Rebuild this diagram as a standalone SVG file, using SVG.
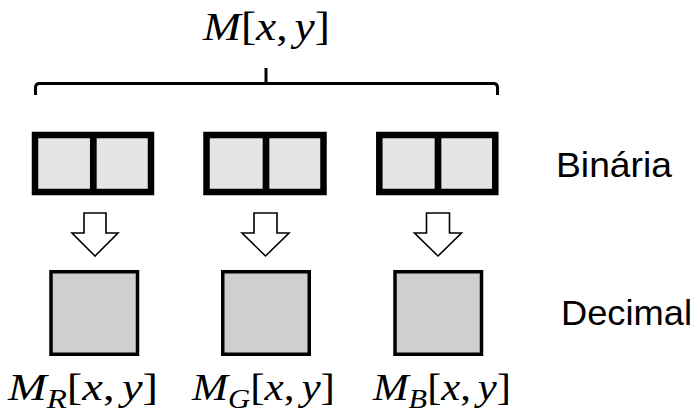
<svg xmlns="http://www.w3.org/2000/svg" width="698" height="414" viewBox="0 0 698 414">
  <style>
    .math { font-family: "Liberation Serif", "DejaVu Serif", serif; fill: #000; }
    .it { font-style: italic; }
    .lbl { font-family: "Liberation Sans", "Open Sans", Arial, sans-serif; font-size: 35px; fill: #000; }
    .bin { fill: #e5e5e5; stroke: #000; stroke-width: 6.5; }
    .div { stroke: #000; stroke-width: 6.7; }
    .dec { fill: #d0cfd0; stroke: #000; stroke-width: 3.5; }
    .arrow { fill: #fff; stroke: #000; stroke-width: 1.6; stroke-linejoin: miter; }
    .brace { fill: none; stroke: #000; stroke-width: 3; stroke-linecap: butt; }
  </style>
  <rect x="0" y="0" width="698" height="414" fill="#fff"/>

  <g id="title">
    <text class="math" x="203" y="39.5" font-size="40" textLength="127" lengthAdjust="spacingAndGlyphs"><tspan class="it">M</tspan>[<tspan class="it">x</tspan>,<tspan class="it" dx="6">y</tspan>]</text>
  </g>

  <g id="brace">
    <path class="brace" d="M35.5 95 V87.5 Q35.5 83.5 39.5 83.5 H493.5 Q497.5 83.5 497.5 87.5 V95"/>
    <path class="brace" d="M266 68 V83.5"/>
  </g>

  <g id="bin-r">
    <rect class="bin" x="35" y="135" width="116" height="57"/>
    <line class="div" x1="93.3" y1="135" x2="93.3" y2="192"/>
  </g>
  <g id="bin-g">
    <rect class="bin" x="206.5" y="135" width="117" height="57"/>
    <line class="div" x1="266" y1="135" x2="266" y2="192"/>
  </g>
  <g id="bin-b">
    <rect class="bin" x="379.3" y="135" width="116" height="57"/>
    <line class="div" x1="438" y1="135" x2="438" y2="192"/>
  </g>

  <g id="label-binaria">
    <text class="lbl" x="556" y="176.7" textLength="116" lengthAdjust="spacingAndGlyphs">Binária</text>
  </g>

  <g id="connectors">
    <path class="arrow" d="M84 213 H106 V233 H118 L95 256 L72 233 H84 Z"/>
    <path class="arrow" d="M254 213 H277 V233 H289 L265.5 256 L242 233 H254 Z"/>
    <path class="arrow" d="M426.5 213 H449.5 V233 H461.5 L438 256 L414.5 233 H426.5 Z"/>
  </g>

  <g id="dec-r">
    <rect class="dec" x="51" y="271.75" width="86.5" height="82.5"/>
  </g>
  <g id="dec-g">
    <rect class="dec" x="222.75" y="271.75" width="86.5" height="82.5"/>
  </g>
  <g id="dec-b">
    <rect class="dec" x="395" y="271.75" width="86.5" height="82.5"/>
  </g>

  <g id="label-decimal">
    <text class="lbl" x="561" y="325" textLength="131" lengthAdjust="spacingAndGlyphs">Decimal</text>
  </g>

  <g id="label-mr">
    <text class="math" x="8" y="400" font-size="38" textLength="150" lengthAdjust="spacingAndGlyphs"><tspan class="it">M</tspan><tspan class="it" font-size="27" dy="8">R</tspan><tspan dy="-8">[</tspan><tspan class="it">x</tspan>,<tspan class="it" dx="6">y</tspan>]</text>
  </g>
  <g id="label-mg">
    <text class="math" x="192" y="400" font-size="38" textLength="143" lengthAdjust="spacingAndGlyphs"><tspan class="it">M</tspan><tspan class="it" font-size="27" dy="8">G</tspan><tspan dy="-8">[</tspan><tspan class="it">x</tspan>,<tspan class="it" dx="6">y</tspan>]</text>
  </g>
  <g id="label-mb">
    <text class="math" x="373" y="400" font-size="38" textLength="138" lengthAdjust="spacingAndGlyphs"><tspan class="it">M</tspan><tspan class="it" font-size="27" dy="8">B</tspan><tspan dy="-8">[</tspan><tspan class="it">x</tspan>,<tspan class="it" dx="6">y</tspan>]</text>
  </g>
</svg>
